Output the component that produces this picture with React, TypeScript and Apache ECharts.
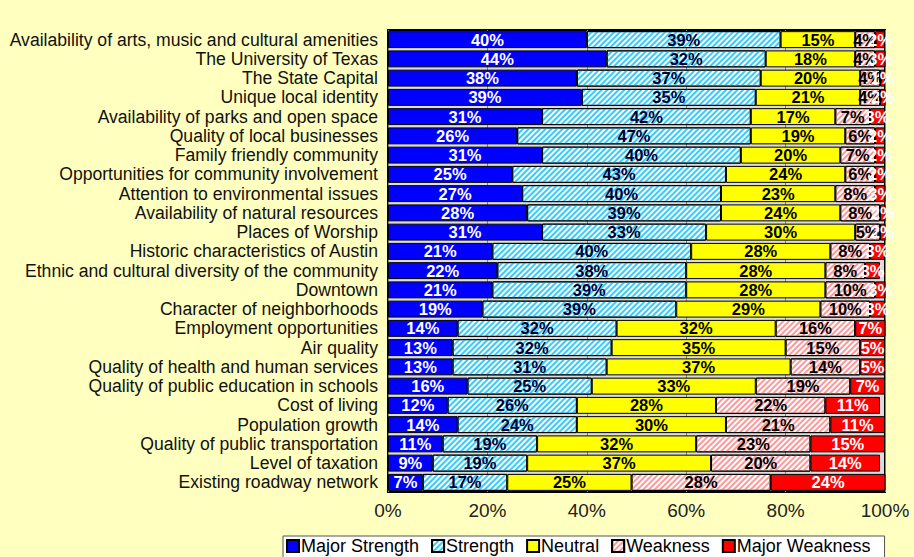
import React, { useEffect, useRef } from "react";
import * as echarts from "echarts";

const categories = [
  "Availability of arts, music and cultural amenities",
  "The University of Texas",
  "The State Capital",
  "Unique local identity",
  "Availability of parks and open space",
  "Quality of local businesses",
  "Family friendly community",
  "Opportunities for community involvement",
  "Attention to environmental issues",
  "Availability of natural resources",
  "Places of Worship",
  "Historic characteristics of Austin",
  "Ethnic and cultural diversity of the community",
  "Downtown",
  "Character of neighborhoods",
  "Employment opportunities",
  "Air quality",
  "Quality of health and human services",
  "Quality of public education in schools",
  "Cost of living",
  "Population growth",
  "Quality of public transportation",
  "Level of taxation",
  "Existing roadway network",
];

const majorStrength = [40, 44, 38, 39, 31, 26, 31, 25, 27, 28, 31, 21, 22, 21, 19, 14, 13, 13, 16, 12, 14, 11, 9, 7];
const strength = [39, 32, 37, 35, 42, 47, 40, 43, 40, 39, 33, 40, 38, 39, 39, 32, 32, 31, 25, 26, 24, 19, 19, 17];
const neutral = [15, 18, 20, 21, 17, 19, 20, 24, 23, 24, 30, 28, 28, 28, 29, 32, 35, 37, 33, 28, 30, 32, 37, 25];
const weakness = [4, 4, 4, 4, 7, 6, 7, 6, 8, 8, 5, 8, 8, 10, 10, 16, 15, 14, 19, 22, 21, 23, 20, 28];
const majorWeakness = [2, 3, 1, 2, 3, 2, 2, 2, 3, 2, 2, 3, 3, 3, 3, 7, 5, 5, 7, 11, 11, 15, 14, 24];

const xTicks = [0, 20, 40, 60, 80, 100];

const FONT = "'Liberation Sans', Arial, sans-serif";

export default function App() {
  const ref = useRef<HTMLDivElement>(null);
  useEffect(() => {
    if (!ref.current) return;
    const chart = echarts.init(ref.current, null, { renderer: "svg" });
    const mkLabel = (color: string) => ({
      show: true,
      position: "inside" as const,
      formatter: (p: any) => `${p.value}%`,
      color,
      fontFamily: FONT,
      fontWeight: "bold" as const,
      fontSize: 16.5,
    });
    const stripe = (color: string) => ({
      symbol: "rect",
      symbolSize: 1,
      color,
      dashArrayX: [1, 0],
      dashArrayY: [2, 2],
      rotation: -Math.PI / 4,
    });
    const base = {
      type: "bar" as const,
      stack: "total",
      barCategoryGap: "12%",
      silent: true,
    };
    chart.setOption({
      animation: false,
      backgroundColor: "#FFFFC0",
      grid: {
        left: 388,
        right: 29,
        top: 30,
        bottom: 65,
        show: true,
        backgroundColor: "#DCDCDC",
        borderColor: "#000",
        borderWidth: 2,
      },
      xAxis: {
        type: "value",
        min: 0,
        max: 100,
        interval: 20,
        axisLine: { show: false },
        axisTick: { show: false },
        splitLine: { show: true, lineStyle: { color: "#808080", width: 1 } },
        axisLabel: {
          formatter: (v: number) => (xTicks.includes(v) ? `${v}%` : ""),
          color: "#222",
          fontFamily: FONT,
          fontSize: 19,
          margin: 9,
        },
      },
      yAxis: {
        type: "category",
        inverse: true,
        data: categories,
        axisLine: { show: false },
        axisTick: { show: false },
        axisLabel: {
          interval: 0,
          color: "#111",
          fontFamily: FONT,
          fontSize: 17.6,
          margin: 10,
        },
      },
      legend: {
        left: 283,
        top: 536,
        padding: [1, 14, 12, 3],
        itemGap: 12,
        itemWidth: 12,
        itemHeight: 12,
        icon: "rect",
        backgroundColor: "#FFFFFF",
        borderColor: "#555",
        borderWidth: 1,
        textStyle: { fontFamily: FONT, fontSize: 18, color: "#000", padding: [0, 0, 0, -3] },
        data: ["Major Strength", "Strength", "Neutral", "Weakness", "Major Weakness"],
      },
      series: [
        {
          ...base,
          name: "Major Strength",
          data: majorStrength,
          itemStyle: { color: "#0000FF", borderColor: "#000", borderWidth: 1 },
          label: mkLabel("#FFFFFF"),
        },
        {
          ...base,
          name: "Strength",
          data: strength,
          itemStyle: {
            color: "#FFFFFF",
            borderColor: "#000",
            borderWidth: 1,
            decal: stripe("#33CCFF"),
          },
          label: mkLabel("#000033"),
        },
        {
          ...base,
          name: "Neutral",
          data: neutral,
          itemStyle: { color: "#FFFF00", borderColor: "#000", borderWidth: 1 },
          label: mkLabel("#000000"),
        },
        {
          ...base,
          name: "Weakness",
          data: weakness,
          itemStyle: {
            color: "#FFFFFF",
            borderColor: "#000",
            borderWidth: 1,
            decal: stripe("#FF9999"),
          },
          label: mkLabel("#000000"),
        },
        {
          ...base,
          name: "Major Weakness",
          data: majorWeakness,
          itemStyle: { color: "#FF0000", borderColor: "#000", borderWidth: 1 },
          label: mkLabel("#FFFFFF"),
        },
      ],
    });
    return () => chart.dispose();
  }, []);
  return (
    <div
      ref={ref}
      style={{ position: "absolute", left: 0, top: 0, width: 914, height: 557 }}
    />
  );
}
